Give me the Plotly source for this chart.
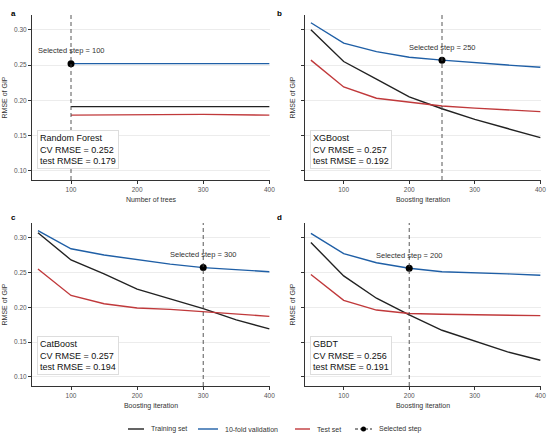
import plotly.graph_objects as go
from plotly.subplots import make_subplots

# data
steps = [50, 100, 150, 200, 250, 300, 350, 400]
rf_trees = [100, 200, 300, 400]

rf_train = [0.191, 0.191, 0.191, 0.191]
rf_cv = [0.252, 0.252, 0.252, 0.252]
rf_test = [0.179, 0.180, 0.180, 0.179]

xgb_train = [0.300, 0.255, 0.230, 0.205, 0.188, 0.173, 0.160, 0.147]
xgb_cv = [0.310, 0.281, 0.269, 0.261, 0.257, 0.253, 0.250, 0.247]
xgb_test = [0.257, 0.219, 0.203, 0.198, 0.192, 0.189, 0.187, 0.184]

cat_train = [0.307, 0.268, 0.248, 0.226, 0.212, 0.198, 0.182, 0.169]
cat_cv = [0.310, 0.284, 0.275, 0.268, 0.262, 0.257, 0.254, 0.251]
cat_test = [0.255, 0.217, 0.205, 0.199, 0.197, 0.194, 0.190, 0.187]

gbdt_train = [0.293, 0.245, 0.213, 0.189, 0.167, 0.151, 0.136, 0.124]
gbdt_cv = [0.306, 0.277, 0.264, 0.256, 0.251, 0.250, 0.248, 0.246]
gbdt_test = [0.247, 0.210, 0.196, 0.191, 0.190, 0.189, 0.188, 0.188]

models = ["Random Forest", "XGBoost", "CatBoost", "GBDT"]
panel_labels = ["a", "b", "c", "d"]
x_titles = ["Number of trees", "Boosting iteration", "Boosting iteration", "Boosting iteration"]
selected_steps = [100, 250, 300, 200]
cv_rmse = [0.252, 0.257, 0.257, 0.256]
test_rmse = [0.179, 0.192, 0.194, 0.191]

legend_names = ["Training set", "10-fold validation", "Test set", "Selected step"]

W, H = 550, 437
BLACK = "#222222"
BLUE = "#1f5fa6"
RED = "#c0393b"
FONT = "Liberation Sans, Arial, sans-serif"


def px_x(p):
    return p / W


def px_y(p):
    return 1 - p / H


panels = [
    (rf_trees, rf_train, rf_cv, rf_test),
    (steps, xgb_train, xgb_cv, xgb_test),
    (steps, cat_train, cat_cv, cat_test),
    (steps, gbdt_train, gbdt_cv, gbdt_test),
]
# pixel boxes of the plot areas: left, right, top, bottom
boxes = [(32, 270, 15, 180), (305, 541, 15, 180), (32, 270, 223, 386), (305, 541, 223, 386)]
label_pos = [(9, 7), (280, 7), (9, 217), (280, 217)]

fig = make_subplots(rows=2, cols=2)

for i, (xs, tr, cv, te) in enumerate(panels):
    r, c = i // 2 + 1, i % 2 + 1
    for ys, col in [(tr, BLACK), (cv, BLUE), (te, RED)]:
        fig.add_trace(go.Scatter(x=xs, y=ys, mode="lines", line=dict(color=col, width=1.4),
                                 showlegend=False), row=r, col=c)
    s = selected_steps[i]
    fig.add_vline(x=s, line=dict(color="#444444", width=0.9, dash="4px,3px"), row=r, col=c)
    sy = cv[xs.index(s)]
    fig.add_trace(go.Scatter(x=[s], y=[sy], mode="markers", marker=dict(color="black", size=7),
                             showlegend=False), row=r, col=c)
    sfx = "" if i == 0 else str(i + 1)
    fig.add_annotation(x=s, y=sy, xref="x" + sfx, yref="y" + sfx, text=f"Selected step = {s}",
                       showarrow=False, yshift=13, font=dict(size=7.5, color="#333333"))

    L, R, T, B = boxes[i]
    fig.layout["xaxis" + sfx].update(domain=[px_x(L), px_x(R)])
    fig.layout["yaxis" + sfx].update(domain=[px_y(B), px_y(T)])
    fig.add_annotation(xref="paper", yref="paper", x=px_x(L + 5), y=px_y(B - 11),
                       xanchor="left", yanchor="bottom", align="left", showarrow=False,
                       text=f"{models[i]}<br>CV RMSE = {cv_rmse[i]:.3f}<br>test RMSE = {test_rmse[i]:.3f}",
                       font=dict(size=9, color="#111111"), bgcolor="white",
                       bordercolor="#dddddd", borderwidth=1, borderpad=2)
    lx, ly = label_pos[i]
    fig.add_annotation(xref="paper", yref="paper", x=px_x(lx), y=px_y(ly), showarrow=False,
                       text=f"<b>{panel_labels[i]}</b>", font=dict(size=8, color="black"))

    fig.update_xaxes(range=[41, 401], tickvals=[100, 200, 300, 400], showgrid=False,
                     showline=True, linecolor="#333333", linewidth=1, ticks="outside",
                     ticklen=3, tickcolor="#333333", zeroline=False,
                     tickfont=dict(size=6.5, color="#555555"),
                     title=dict(text=x_titles[i], font=dict(size=7, color="#333333"), standoff=5),
                     row=r, col=c)
    fig.update_yaxes(range=[0.087, 0.321], tickvals=[0.10, 0.15, 0.20, 0.25, 0.30],
                     tickformat=".2f", showticklabels=(c == 1), showgrid=True,
                     gridcolor="#ececec", gridwidth=0.6, showline=True, linecolor="#333333",
                     linewidth=1, ticks="outside", ticklen=3, tickcolor="#333333",
                     zeroline=False, tickfont=dict(size=6.5, color="#555555"),
                     title=dict(text="RMSE of GIP", font=dict(size=7, color="#333333"),
                                standoff=5 if c == 1 else 4),
                     row=r, col=c)

# manual legend along the bottom
ly = px_y(429)
keys = [(128, 144, BLACK), (198, 218, BLUE), (295, 310, RED), (355, 372, "#222222")]
for (x0, x1, col), name in zip(keys, legend_names):
    dash = "3px,2px" if name == "Selected step" else "solid"
    fig.add_shape(type="line", xref="paper", yref="paper", x0=px_x(x0), x1=px_x(x1), y0=ly, y1=ly,
                  line=dict(color=col, width=1.4 if dash == "solid" else 1, dash=dash))
    if name == "Selected step":
        cx = (x0 + x1) / 2
        fig.add_shape(type="circle", xref="paper", yref="paper", fillcolor="black", line_width=0,
                      x0=px_x(cx - 2.5), x1=px_x(cx + 2.5), y0=px_y(429 + 2.5), y1=px_y(429 - 2.5))
    fig.add_annotation(xref="paper", yref="paper", x=px_x(x1 + 5), y=ly, xanchor="left",
                       yanchor="middle", showarrow=False, text=name,
                       font=dict(size=7, color="#333333"))

fig.update_layout(width=W, height=H, margin=dict(l=0, r=0, t=0, b=0),
                  plot_bgcolor="white", paper_bgcolor="white",
                  font=dict(family=FONT), showlegend=False)
fig.update_xaxes(automargin=False)
fig.update_yaxes(automargin=False)

# drop the default page margin so the figure sits at the window corner
fig.write_html("out.html", config={"displayModeBar": False},
               post_script="document.body.style.margin='0px';")
